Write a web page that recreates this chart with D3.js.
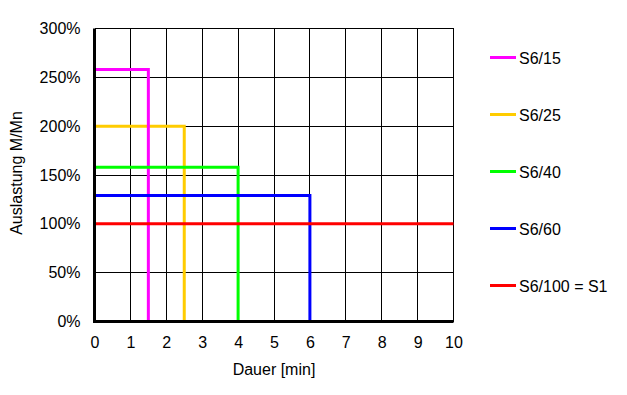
<!DOCTYPE html>
<html>
<head>
<meta charset="utf-8">
<script src="https://cdn.jsdelivr.net/npm/d3@7"></script>
<style>
  body { margin: 0; background: #fff; }
  svg { display: block; font-family: "Liberation Sans", Arial, sans-serif; }
</style>
</head>
<body>
<div id="vis1"></div>
<script>
// Series names, load (% of Mn) and duration of the load in minutes
const SERIES = ["S6/15", "S6/25", "S6/40", "S6/60", "S6/100 = S1"];
const LOAD = [258, 200, 158, 129, 100];
const DURATION = [1.5, 2.5, 4, 6, 10];
const COLORS = ["#ff00ff", "#ffcc00", "#00ff00", "#0000ff", "#ff0000"];

// Tick labels
const X_TICKS = [0, 1, 2, 3, 4, 5, 6, 7, 8, 9, 10];
const Y_TICKS = [0, 50, 100, 150, 200, 250, 300];

// Frame
const FRAME_WIDTH = 627;
const FRAME_HEIGHT = 395;
const MARGINS = {left: 94.5, right: 173.5, top: 28.5, bottom: 73.5};
const FONT = "16px";

const FRAME1 = d3.select("#vis1")
                 .append("svg")
                 .attr("width", FRAME_WIDTH)
                 .attr("height", FRAME_HEIGHT);

const X_SCALE = d3.scaleLinear()
                  .domain([0, 10])
                  .range([MARGINS.left, FRAME_WIDTH - MARGINS.right]);
const Y_SCALE = d3.scaleLinear()
                  .domain([0, 300])
                  .range([FRAME_HEIGHT - MARGINS.bottom, MARGINS.top]);

// Grid lines
const grid = FRAME1.append("g").attr("shape-rendering", "crispEdges");
grid.selectAll(".vgrid")
    .data(X_TICKS.slice(1))
    .enter().append("line")
    .attr("x1", d => X_SCALE(d)).attr("x2", d => X_SCALE(d))
    .attr("y1", Y_SCALE(0)).attr("y2", Y_SCALE(300))
    .attr("stroke", "#000").attr("stroke-width", 1);
grid.selectAll(".hgrid")
    .data(Y_TICKS.slice(1))
    .enter().append("line")
    .attr("x1", X_SCALE(0)).attr("x2", X_SCALE(10))
    .attr("y1", d => Y_SCALE(d)).attr("y2", d => Y_SCALE(d))
    .attr("stroke", "#000").attr("stroke-width", 1);

// X axis labels
const xAxis = FRAME1.append("g")
      .attr("transform", "translate(0," + Y_SCALE(0) + ")")
      .call(d3.axisBottom(X_SCALE).tickValues(X_TICKS).tickSize(0).tickPadding(15));
xAxis.select(".domain").remove();
xAxis.selectAll("text").attr("font-size", FONT).attr("font-family", "Liberation Sans, Arial, sans-serif").attr("fill", "#000");

// Y axis labels
const yAxis = FRAME1.append("g")
      .attr("transform", "translate(" + X_SCALE(0) + ",0)")
      .call(d3.axisLeft(Y_SCALE).tickValues(Y_TICKS).tickSize(0).tickPadding(14)
              .tickFormat(d => d + "%"));
yAxis.select(".domain").remove();
yAxis.selectAll("text").attr("font-size", FONT).attr("font-family", "Liberation Sans, Arial, sans-serif").attr("fill", "#000");

// Series lines
const line = d3.line().x(d => X_SCALE(d[0])).y(d => Y_SCALE(d[1]));
const DRAW_ORDER = [1, 0, 2, 3, 4];
DRAW_ORDER.forEach(i => {
  const pts = DURATION[i] >= 10
    ? [[0, LOAD[i]], [DURATION[i], LOAD[i]]]
    : [[0, LOAD[i]], [DURATION[i], LOAD[i]], [DURATION[i], 0]];
  FRAME1.append("path")
        .attr("d", line(pts))
        .attr("fill", "none")
        .attr("stroke", COLORS[i])
        .attr("stroke-width", 3);
});

// Thick axis lines
FRAME1.append("line")
      .attr("x1", X_SCALE(0)).attr("x2", X_SCALE(0))
      .attr("y1", Y_SCALE(300)).attr("y2", Y_SCALE(0) + 1.5)
      .attr("stroke", "#000").attr("stroke-width", 3);
FRAME1.append("line")
      .attr("x1", X_SCALE(0) - 1.5).attr("x2", X_SCALE(10))
      .attr("y1", Y_SCALE(0)).attr("y2", Y_SCALE(0))
      .attr("stroke", "#000").attr("stroke-width", 3);

// Axis titles
FRAME1.append("text")
      .attr("x", (X_SCALE(0) + X_SCALE(10)) / 2)
      .attr("y", 375)
      .attr("text-anchor", "middle")
      .attr("font-size", FONT)
      .text("Dauer [min]");
FRAME1.append("text")
      .attr("transform", "translate(22," + 173 + ") rotate(-90)")
      .attr("text-anchor", "middle")
      .attr("font-size", FONT)
      .text("Auslastung M/Mn");

// Legend
const legend = FRAME1.append("g");
SERIES.forEach((name, i) => {
  const ly = 57.5 + i * 57;
  legend.append("line")
        .attr("x1", 490).attr("x2", 516)
        .attr("y1", ly).attr("y2", ly)
        .attr("stroke", COLORS[i]).attr("stroke-width", 3);
  legend.append("text")
        .attr("x", 519).attr("y", ly + 6)
        .attr("font-size", FONT)
        .text(name);
});
</script>
</body>
</html>
